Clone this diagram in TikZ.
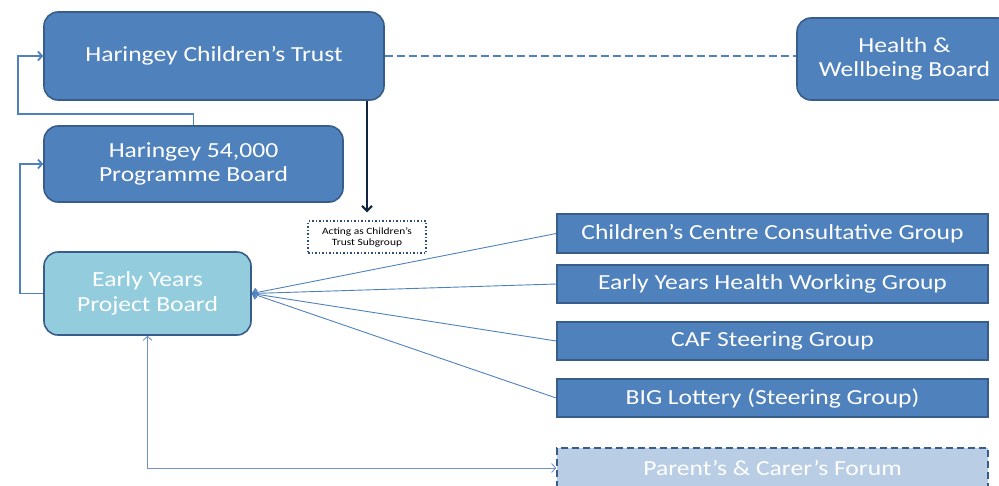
\documentclass[tikz,border=0pt]{standalone}
\usepackage{fontspec}
\setmainfont{Carlito}[FakeStretch=1.19]
\usetikzlibrary{arrows.meta}
\definecolor{boxblue}{HTML}{4F81BD}
\definecolor{boxedge}{HTML}{385D8A}
\definecolor{eyfill}{HTML}{93CDDD}
\definecolor{forumfill}{HTML}{B9CDE5}
\definecolor{navyline}{HTML}{10253F}
\definecolor{dotblue}{HTML}{2C4D75}
\definecolor{linkblue}{HTML}{4F81BD}
\definecolor{softblue}{HTML}{7092C8}
\begin{document}
\begin{tikzpicture}[x=1pt,y=-1pt,
  board/.style={draw=boxedge, line width=1.6pt, fill=boxblue, rounded corners=14pt,
    text=white, align=center, font=\fontsize{21.5}{24.5}\selectfont, inner sep=0pt},
  group/.style={draw=boxedge, line width=1.6pt, fill=boxblue, text=white, align=center,
    font=\fontsize{21.5}{24.5}\selectfont, inner sep=0pt, minimum width=431pt, minimum height=38pt},
  link/.style={draw=linkblue, line width=1.8pt},
  feed/.style={draw=linkblue, line width=0.9pt},
  tip/.style={-{Straight Barb[length=4pt,width=9pt]}},
]
\useasboundingbox (0,0) rectangle (999,485);

% boards
\node[board, minimum width=340pt, minimum height=88pt] (trust) at (214,56) {Haringey Children’s Trust};
\node[board, minimum width=215pt, minimum height=82pt] (health) at (904.5,59) {Health \&\\Wellbeing Board};
\node[board, minimum width=299pt, minimum height=76pt] (prog) at (193.5,164) {Haringey 54,000\\Programme Board};
\node[board, fill=eyfill, minimum width=207pt, minimum height=83pt] (ey) at (147.5,293.5) {Early Years\\Project Board};

% subgroup note
\node[draw=dotblue, line width=1.5pt, dotted, fill=white, minimum width=118pt, minimum height=32pt,
  inner sep=0pt, align=center, font=\fontsize{9.6}{11}\selectfont] (sub) at (367,237)
  {Acting as Children’s\\Trust Subgroup};

% working groups
\node[group, minimum height=39pt] (g1) at (772.5,233.5) {Children’s Centre Consultative Group};
\node[group] (g2) at (772.5,284) {Early Years Health Working Group};
\node[group] (g3) at (772.5,341) {CAF Steering Group};
\node[group] (g4) at (772.5,398) {BIG Lottery (Steering Group)};
\node[group, fill=forumfill, dashed, dash pattern=on 7pt off 4pt, minimum height=40pt] (forum) at (772.5,468)
  {Parent’s \& Carer’s Forum};

% connectors
\draw[link, dash pattern=on 8pt off 4pt, line width=1.5pt] (trust.east) -- (trust.east -| health.west);
\draw[navyline, line width=2pt, -{Straight Barb[length=5pt,width=10pt]}, shorten >=8pt]
  (sub.north |- trust.south) -- (sub.north);

\coordinate (bendA) at (18,114);
\coordinate (bendB) at (20,0);
\draw[link, tip] (prog.north) -- (prog.north |- bendA) -- (bendA) |- (trust.west);
\draw[link, tip] (ey.west) -- (bendB |- ey.west) |- (prog.west);

\draw[feed, tip] (g1.west) -- (ey.east);
\draw[feed, tip] (g2.west) -- (ey.east);
\draw[feed, tip] (g3.west) -- (ey.east);
\draw[feed, tip] (g4.west) -- (ey.east);

\draw[feed, draw=softblue, {Straight Barb[length=4pt,width=9pt]}-{Straight Barb[length=4pt,width=9pt]}]
  (ey.south) |- (forum.west);
\end{tikzpicture}
\end{document}
